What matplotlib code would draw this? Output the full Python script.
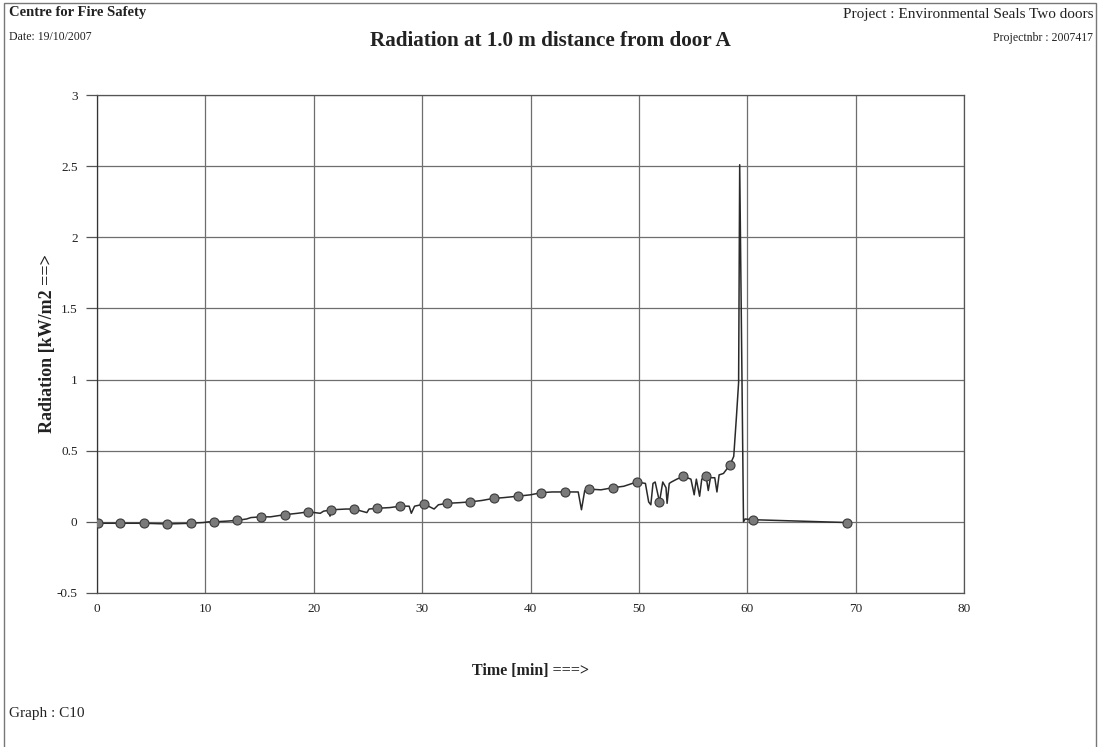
import matplotlib.pyplot as plt
from matplotlib.patches import Rectangle

# ---- data ----
# measured curve (time in minutes, radiation in kW/m2)
t_line = [0.0, 0.1, 2.1, 4.3, 6.5, 8.7, 9.8, 10.3, 10.8, 12.0, 12.9, 13.8, 14.2,
          15.1, 16.0, 17.3, 18.5, 19.5, 20.6, 20.9, 21.3, 21.5, 21.7, 23.0, 23.7,
          24.9, 25.1, 25.8, 27.0, 28.0, 28.8, 29.0, 29.3, 30.2, 31.1, 31.5, 32.3,
          33.5, 34.4, 35.5, 36.6, 37.5, 38.8, 40.0, 41.0, 42.0, 43.2, 44.4, 44.7,
          45.0, 45.4, 46.5, 47.6, 48.6, 49.8, 50.6, 50.9, 51.1, 51.3, 51.5, 51.9,
          52.2, 52.5, 52.6, 52.8, 53.0, 53.5, 54.1, 54.8, 55.1, 55.3, 55.6, 55.8,
          56.2, 56.4, 56.6, 57.0, 57.2, 57.4, 57.8, 58.4, 58.75, 59.0, 59.2, 59.3,
          59.65, 59.8, 60.5, 69.2]
rad_line = [-0.01, -0.01, -0.01, -0.01, -0.015, -0.01, -0.005, 0.0, 0.0, 0.005, 0.01, 0.02, 0.03,
            0.035, 0.035, 0.05, 0.06, 0.07, 0.06, 0.075, 0.08, 0.04, 0.085, 0.09, 0.09,
            0.065, 0.09, 0.095, 0.10, 0.11, 0.11, 0.06, 0.11, 0.125, 0.09, 0.12, 0.13,
            0.135, 0.14, 0.15, 0.165, 0.17, 0.18, 0.19, 0.205, 0.21, 0.21, 0.21, 0.085,
            0.22, 0.23, 0.225, 0.24, 0.25, 0.28, 0.27, 0.14, 0.12, 0.27, 0.28, 0.14,
            0.28, 0.24, 0.13, 0.27, 0.28, 0.30, 0.32, 0.30, 0.19, 0.30, 0.18, 0.30,
            0.32, 0.22, 0.31, 0.31, 0.21, 0.33, 0.34, 0.40, 0.46, 0.74, 0.98, 2.51,
            0.0, 0.02, 0.015, -0.005]

# marker points
t_mark = [0.1, 2.1, 4.3, 6.5, 8.7, 10.8, 12.9, 15.1, 17.3, 19.5, 21.6, 23.7, 25.8,
          28.0, 30.2, 32.3, 34.4, 36.6, 38.8, 41.0, 43.2, 45.4, 47.6, 49.8, 51.9,
          54.1, 56.2, 58.4, 60.5, 69.2]
rad_mark = [-0.01, -0.01, -0.01, -0.015, -0.01, 0.0, 0.01, 0.035, 0.05, 0.07, 0.085,
            0.09, 0.095, 0.11, 0.125, 0.13, 0.14, 0.165, 0.18, 0.205, 0.21, 0.23, 0.24,
            0.28, 0.14, 0.32, 0.32, 0.40, 0.015, -0.005]

x_ticks = [0, 10, 20, 30, 40, 50, 60, 70, 80]
y_ticks = [-0.5, 0, 0.5, 1, 1.5, 2, 2.5, 3]
y_tick_labels = ["-0.5", "0", "0.5", "1", "1.5", "2", "2.5", "3"]

plt.rcParams['font.family'] = ['Liberation Serif', 'DejaVu Serif']

fig = plt.figure(figsize=(11, 7.47), dpi=100)
ax = fig.add_axes([0.0882, 0.2062, 0.7882, 0.6666])

ax.plot(t_line, rad_line, color='#2a2a2a', linewidth=1.1, zorder=3)
ax.plot(t_mark, rad_mark, linestyle='none', marker='o', markersize=6.5,
        markerfacecolor='#7a7a7a', markeredgecolor='#3a3a3a', markeredgewidth=0.8, zorder=4)

ax.set_xlim(0, 80)
ax.set_ylim(-0.5, 3)
ax.set_xticks(x_ticks)
ax.set_yticks(y_ticks)
ax.set_yticklabels(y_tick_labels)
ax.grid(True, color='#6e6e6e', linewidth=0.9)
ax.set_axisbelow(True)
for s in ax.spines.values():
    s.set_color('#555555')
    s.set_linewidth(0.9)
ax.spines['left'].set_color('#333333')
ax.tick_params(axis='x', length=0, pad=7, labelsize=9.5, colors='#222222')
ax.tick_params(axis='y', length=8, width=0.9, color='#555555', pad=6,
               labelsize=9.5, labelcolor='#222222')

ax.set_xlabel("Time [min] ===>", fontsize=11.5, fontweight='bold', labelpad=35, color='#222222')
ax.set_ylabel("Radiation [kW/m2 ==>", fontsize=13, fontweight='bold', color='#222222')
ax.yaxis.set_label_coords(-0.047, 0.5)

# header / footer texts
fig.text(0.5, 0.945, "Radiation at 1.0 m distance from door A", ha='center', va='center',
         fontsize=15.2, fontweight='bold', color='#222222')
fig.text(0.008, 0.983, "Centre for Fire Safety", ha='left', va='center',
         fontsize=10.5, fontweight='bold', color='#222222')
fig.text(0.008, 0.95, "Date: 19/10/2007", ha='left', va='center', fontsize=8.5, color='#222222')
fig.text(0.994, 0.981, "Project : Environmental Seals Two doors", ha='right', va='center',
         fontsize=11, color='#222222')
fig.text(0.994, 0.949, "Projectnbr : 2007417", ha='right', va='center', fontsize=8.5, color='#222222')
fig.text(0.008, 0.045, "Graph : C10", ha='left', va='center', fontsize=11, color='#222222')

# page frame
fig.patches.append(Rectangle((0.004, -0.01), 0.992, 1.006, transform=fig.transFigure,
                             fill=False, edgecolor='#777777', linewidth=1.0))

fig.savefig("out.png", dpi=100)
